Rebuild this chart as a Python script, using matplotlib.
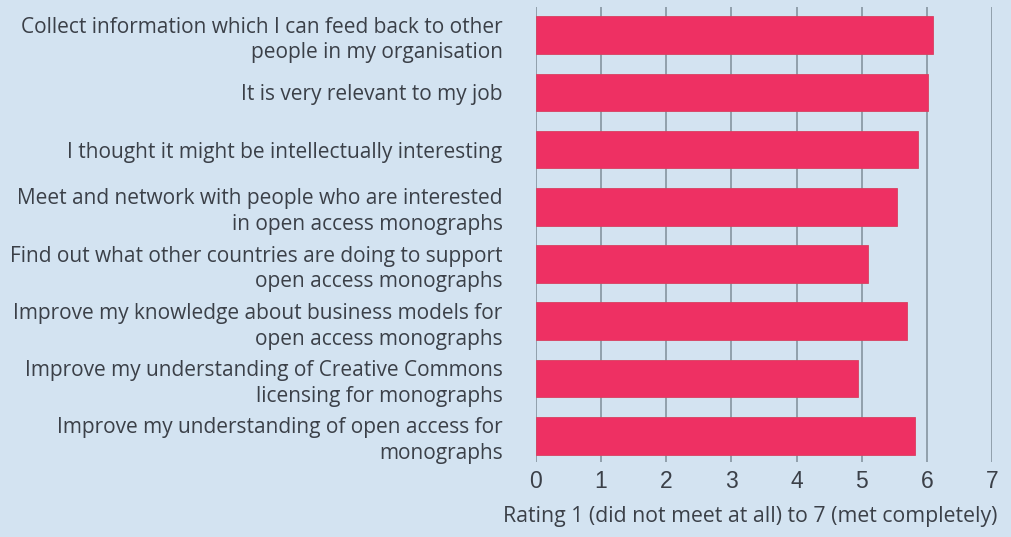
import matplotlib
matplotlib.use("Agg")
import matplotlib.pyplot as plt

labels = [
    "Collect information which I can feed back to other\npeople in my organisation",
    "It is very relevant to my job",
    "I thought it might be intellectually interesting",
    "Meet and network with people who are interested\nin open access monographs",
    "Find out what other countries are doing to support\nopen access monographs",
    "Improve my knowledge about business models for\nopen access monographs",
    "Improve my understanding of Creative Commons\nlicensing for monographs",
    "Improve my understanding of open access for\nmonographs",
]
ratings = [6.09, 6.02, 5.87, 5.54, 5.10, 5.69, 4.95, 5.82]
xticks = [0, 1, 2, 3, 4, 5, 6, 7]

bg = "#d3e3f1"
bar_color = "#ee3063"
text_color = "#3b4048"
grid_color = "#8c9aa6"

fig = plt.figure(figsize=(10.12, 5.37), dpi=100, facecolor=bg)
ax = fig.add_axes([0.5296, 0.1397, 0.4506, 0.847])
ax.set_facecolor(bg)

y = list(range(len(labels)))
ax.barh(y, ratings, height=0.66, color=bar_color, edgecolor="#d8405f", linewidth=0.6, zorder=3)

ax.set_xlim(0, 7)
ax.set_ylim(len(labels) - 0.54, -0.49)
ax.set_xticks(xticks)
ax.set_xticklabels([str(t) for t in xticks], fontsize=16.5, family="Liberation Sans", color=text_color)
ax.set_yticks(y)
ax.set_yticklabels(labels, fontsize=15, family="Open Sans", color=text_color, linespacing=1.3)
ax.tick_params(axis="y", length=0, pad=24)
ax.tick_params(axis="x", length=0, pad=6)
ax.grid(axis="x", color=grid_color, linewidth=1.3, zorder=1)
for s in ax.spines.values():
    s.set_visible(False)

fig.text(0.986, 0.018, "Rating 1 (did not meet at all) to 7 (met completely)",
         ha="right", va="bottom", fontsize=15.3, family="Open Sans", color=text_color)

fig.savefig("out.png", dpi=100, facecolor=bg)
